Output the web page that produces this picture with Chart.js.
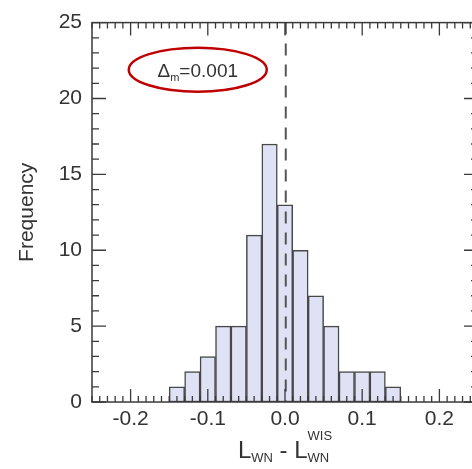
<!DOCTYPE html>
<html>
<head>
<meta charset="utf-8">
<script src="https://cdn.jsdelivr.net/npm/chart.js@4.4.0/dist/chart.umd.min.js"></script>
<style>
  html, body { margin: 0; padding: 0; overflow: hidden; background: #fff; }
</style>
</head>
<body>
<canvas id="chart" width="486" height="469"></canvas>
<script>
// histogram bins (centres, width 0.02) and counts
const binCenters = [-0.14, -0.12, -0.10, -0.08, -0.06, -0.04, -0.02, 0.00, 0.02, 0.04, 0.06, 0.08, 0.10, 0.12, 0.14];
const frequency = [1, 2, 3, 5, 5, 11, 17, 13, 10, 7, 5, 2, 2, 2, 1];
const xTicks = [-0.2, -0.1, 0.0, 0.1, 0.2];
const yTicks = [0, 5, 10, 15, 20, 25];
const meanOffset = 0.001;

const FONT = '"Liberation Sans", Arial, Helvetica, sans-serif';
const TEXT = '#333';
const AXIS = '#3a3a3a';

// frame, inward ticks, dashed mean line, annotation and x title
const decor = {
  id: 'decor',
  afterDatasetsDraw(chart) {
    const { ctx, chartArea: a, scales: { x, y } } = chart;
    ctx.save();

    // dashed line at the mean offset
    ctx.strokeStyle = '#555';
    ctx.lineWidth = 2;
    ctx.setLineDash([12, 9]);
    const xm = x.getPixelForValue(meanOffset);
    ctx.beginPath();
    ctx.moveTo(xm, a.top);
    ctx.lineTo(xm, a.bottom);
    ctx.stroke();
    ctx.setLineDash([]);

    // frame
    ctx.strokeStyle = AXIS;
    ctx.lineWidth = 1.5;
    ctx.strokeRect(a.left, a.top, a.right - a.left, a.bottom - a.top);

    // x ticks every 0.01, long every 0.1
    ctx.lineWidth = 1.3;
    ctx.beginPath();
    for (let i = -25; i <= 25; i++) {
      const px = x.getPixelForValue(i / 100);
      const len = i % 10 === 0 ? 13 : 6;
      ctx.moveTo(px, a.bottom);
      ctx.lineTo(px, a.bottom - len);
      ctx.moveTo(px, a.top);
      ctx.lineTo(px, a.top + len);
    }
    // y ticks every 1, long every 5
    for (let j = 0; j <= 25; j++) {
      const py = y.getPixelForValue(j);
      const len = j % 5 === 0 ? 14 : 7;
      ctx.moveTo(a.left, py);
      ctx.lineTo(a.left + len, py);
      ctx.moveTo(a.right, py);
      ctx.lineTo(a.right - len, py);
    }
    ctx.stroke();

    // annotation ellipse
    const cx = x.getPixelForValue(-0.113);
    const cy = y.getPixelForValue(21.9);
    ctx.strokeStyle = '#c00000';
    ctx.lineWidth = 2.5;
    ctx.beginPath();
    ctx.ellipse(cx, cy, 69, 22, 0, 0, Math.PI * 2);
    ctx.stroke();

    ctx.fillStyle = TEXT;
    ctx.textBaseline = 'alphabetic';
    ctx.textAlign = 'left';
    const big = '19px ' + FONT, small = '11px ' + FONT;
    ctx.font = big;
    const wD = ctx.measureText('\u0394').width;
    ctx.font = small;
    const wm = ctx.measureText('m').width;
    ctx.font = big;
    const wv = ctx.measureText('=0.001').width;
    const tx = cx - (wD + wm + wv) / 2;
    const base = cy + 7;
    ctx.fillText('\u0394', tx, base);
    ctx.font = small;
    ctx.fillText('m', tx + wD, base + 4);
    ctx.font = big;
    ctx.fillText('=0.001', tx + wD + wm, base);

    // x axis title: L_WN - L_WN^WIS
    const L = '24px ' + FONT, sub = '13px ' + FONT;
    ctx.font = L;
    const wL = ctx.measureText('L').width;
    const wMinus = ctx.measureText(' - ').width;
    ctx.font = sub;
    const wWN = ctx.measureText('WN').width;
    const wWIS = ctx.measureText('WIS').width;
    const total = wL + wWN + wMinus + wL + Math.max(wWN, wWIS);
    const px0 = x.getPixelForValue(0) - total / 2;
    const by = 458;
    ctx.font = L;
    ctx.fillText('L', px0, by);
    ctx.font = sub;
    ctx.fillText('WN', px0 + wL, by + 4);
    ctx.font = L;
    ctx.fillText(' - ', px0 + wL + wWN, by);
    const p2 = px0 + wL + wWN + wMinus;
    ctx.fillText('L', p2, by);
    ctx.font = sub;
    ctx.fillText('WN', p2 + wL, by + 4);
    ctx.fillText('WIS', p2 + wL, by - 18);

    ctx.restore();
  }
};

new Chart(document.getElementById('chart'), {
  type: 'bar',
  data: {
    datasets: [{
      data: binCenters.map((c, i) => ({ x: c, y: frequency[i] })),
      backgroundColor: '#dfe2f5',
      borderColor: '#484848',
      borderWidth: 1.5,
      barPercentage: 1,
      categoryPercentage: 1,
      borderSkipped: false
    }]
  },
  options: {
    responsive: false,
    animation: false,
    layout: { padding: { left: 0, right: 8, top: 17, bottom: 0 } },
    plugins: { legend: { display: false }, tooltip: { enabled: false } },
    scales: {
      x: {
        type: 'linear',
        min: -0.25,
        max: 0.25,
        offset: false,
        grid: { display: false, drawTicks: false },
        border: { display: false },
        afterBuildTicks: s => { s.ticks = xTicks.map(v => ({ value: v })); },
        afterFit: s => { s.height = 67; },
        ticks: {
          padding: 5,
          color: TEXT,
          font: { family: FONT, size: 21 },
          callback: v => v.toFixed(1)
        }
      },
      y: {
        min: 0,
        max: 25,
        grid: { display: false, drawTicks: false },
        border: { display: false },
        afterBuildTicks: s => { s.ticks = yTicks.map(v => ({ value: v })); },
        afterFit: s => { s.width = 92; },
        ticks: {
          padding: 10,
          color: TEXT,
          font: { family: FONT, size: 21 }
        },
        title: {
          display: true,
          text: 'Frequency',
          color: TEXT,
          font: { family: FONT, size: 21 },
          padding: { top: 15, bottom: 0 }
        }
      }
    }
  },
  plugins: [decor]
});
</script>
</body>
</html>
